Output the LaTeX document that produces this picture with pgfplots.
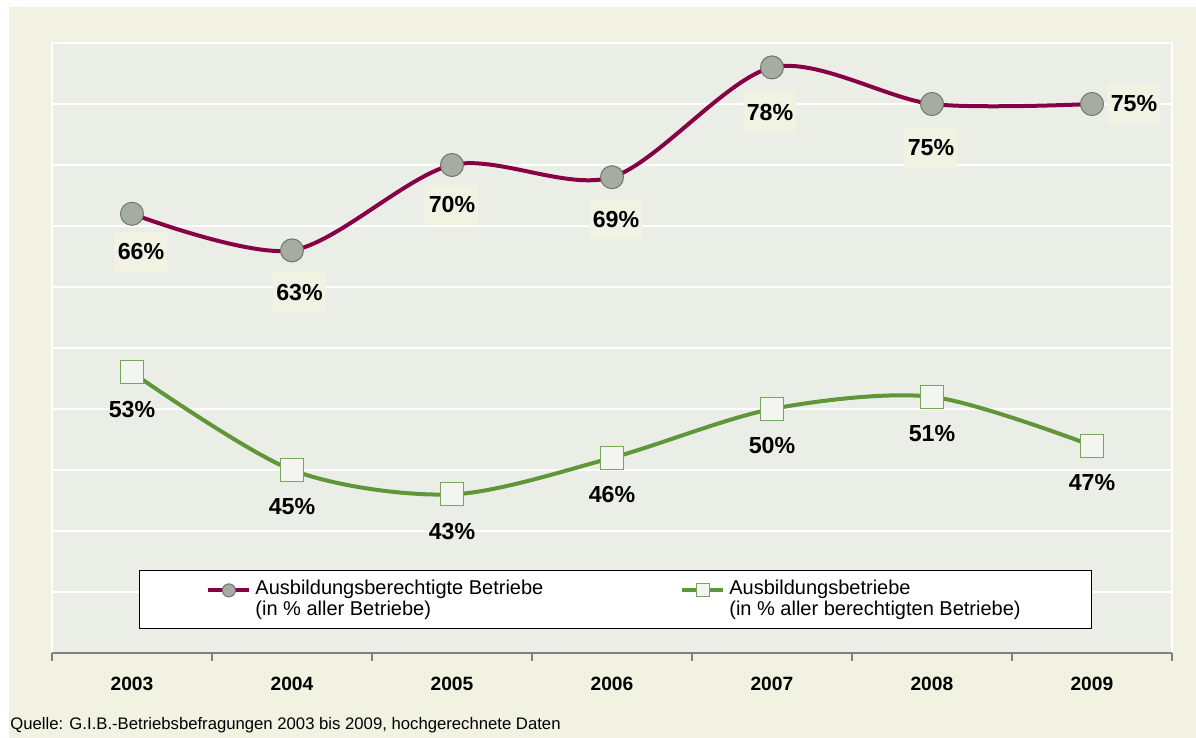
\documentclass[border=0pt]{standalone}
\usepackage{pgfplots}
\usepackage{pgfplotstable}
\pgfplotsset{compat=1.18}
\usepackage{fontspec}
\setmainfont{Liberation Sans}

\definecolor{outerbg}{HTML}{F2F2E3}
\definecolor{plotbg}{HTML}{EBEEE7}
\definecolor{weinrot}{HTML}{870045}
\definecolor{gruen}{HTML}{5E9638}
\definecolor{markgray}{HTML}{A6ACA2}
\definecolor{markedge}{HTML}{6E776C}
\definecolor{axisgray}{HTML}{808080}

\newcommand\pctfont{\fontsize{11.6}{13}\selectfont\bfseries}
\newcommand\yearfont{\fontsize{9.6}{11}\selectfont\bfseries}
\newcommand\legfont{\fontsize{10}{10.5}\selectfont}

% x = Jahr, y = Anteil in %, dx/dy = Versatz der Beschriftung (pt)
\pgfplotstableread{
x    y   dx    dy
2003 66  4.5   -19
2004 63  3.75  -21
2005 70  0     -20
2006 69  2     -21
2007 78  -1    -22.5
2008 75  -0.5  -22
2009 75  21    0
}\berechtigt

\pgfplotstableread{
x    y   dx  dy
2003 53  0   -18.5
2004 45  0   -18.5
2005 43  0   -18.5
2006 46  0   -18.5
2007 50  0   -18.5
2008 51  0   -18.5
2009 47  0   -18.5
}\ausbildend

\begin{document}
\begin{tikzpicture}
% Hintergrund
\fill[white] (-26pt,-42.5pt) rectangle (572pt,326.5pt);
\fill[outerbg] (-21.5pt,-42.5pt) rectangle (572pt,323pt);
\node[anchor=base west, font=\fontsize{8.35}{10}\selectfont, inner sep=0pt]
  at (-21pt,-38.5pt) {Quelle: G.I.B.-Betriebsbefragungen 2003 bis 2009, hochgerechnete Daten};

\begin{axis}[
  scale only axis,
  width=560pt, height=305pt,
  xmin=2002.5, xmax=2009.5,
  ymin=30, ymax=80,
  clip=false,
  axis background/.style={fill=plotbg, draw=white, line width=1pt},
  axis x line*=bottom,
  axis y line*=left,
  x axis line style={-, draw=axisgray, line width=0.8pt},
  y axis line style={draw=none},
  xtick={2003,...,2009},
  minor xtick={2002.5,2003.5,...,2009.5},
  tick align=outside,
  major tick length=0pt,
  minor tick length=4pt,
  minor tick style={draw=axisgray, line width=0.6pt},
  xticklabel style={font=\yearfont, anchor=base, yshift=-19pt},
  /pgf/number format/1000 sep={},
  /pgf/number format/assume math mode=true,
  ytick={35,40,...,75},
  yticklabels={},
  ytick style={draw=none},
  ymajorgrids,
  grid style={white, line width=0.6pt},
  legend columns=2,
  legend style={at={(axis description cs:0.0777,0.0393)}, anchor=south west,
    fill=white, draw=black, font=\legfont,
    inner xsep=33.5pt, inner ysep=3pt,
    cells={align=left, anchor=west, inner xsep=1pt},
    /tikz/every even column/.append style={column sep=66.5pt}},
  legend image code/.code={
    \draw[mark repeat=2, mark phase=2, yshift=4.5pt]
      plot coordinates {(0pt,0pt) (10.25pt,0pt) (20.5pt,0pt)};},
]
\addplot[weinrot, line width=2pt, smooth, mark=*, mark size=5.75pt,
  mark options={fill=markgray, draw=markedge, line width=0.5pt},
  forget plot,
  visualization depends on={\thisrow{dx} \as \dx},
  visualization depends on={\thisrow{dy} \as \dy},
  nodes near coords={\pgfmathprintnumber[fixed,precision=0]{\pgfplotspointmeta}\%},
  every node near coord/.append style={anchor=center, xshift=\dx, yshift=\dy,
    fill=outerbg, text=black, font=\pctfont,
    minimum width=26.5pt, minimum height=20pt, inner sep=0pt}]
  table[x=x, y=y] {\berechtigt};

\addplot[gruen, line width=2pt, smooth, mark=square*, mark size=5.75pt,
  mark options={fill=plotbg!60!white, draw=gruen!85!white, line width=0.5pt},
  forget plot,
  visualization depends on={\thisrow{dx} \as \dx},
  visualization depends on={\thisrow{dy} \as \dy},
  nodes near coords={\pgfmathprintnumber[fixed,precision=0]{\pgfplotspointmeta}\%},
  every node near coord/.append style={anchor=center, xshift=\dx, yshift=\dy,
    text=black, font=\pctfont, inner sep=0pt}]
  table[x=x, y=y] {\ausbildend};

\addlegendimage{weinrot, line width=2pt, mark=*, mark size=3.25pt,
  mark options={fill=markgray, draw=markedge, line width=0.5pt}}
\addlegendentry{Ausbildungsberechtigte Betriebe\\(in \% aller Betriebe)}
\addlegendimage{gruen, line width=2pt, mark=square*, mark size=3.25pt,
  mark options={fill=plotbg!60!white, draw=gruen!85!white, line width=0.5pt}}
\addlegendentry{Ausbildungsbetriebe\\(in \% aller berechtigten Betriebe)}
\end{axis}
\end{tikzpicture}
\end{document}
